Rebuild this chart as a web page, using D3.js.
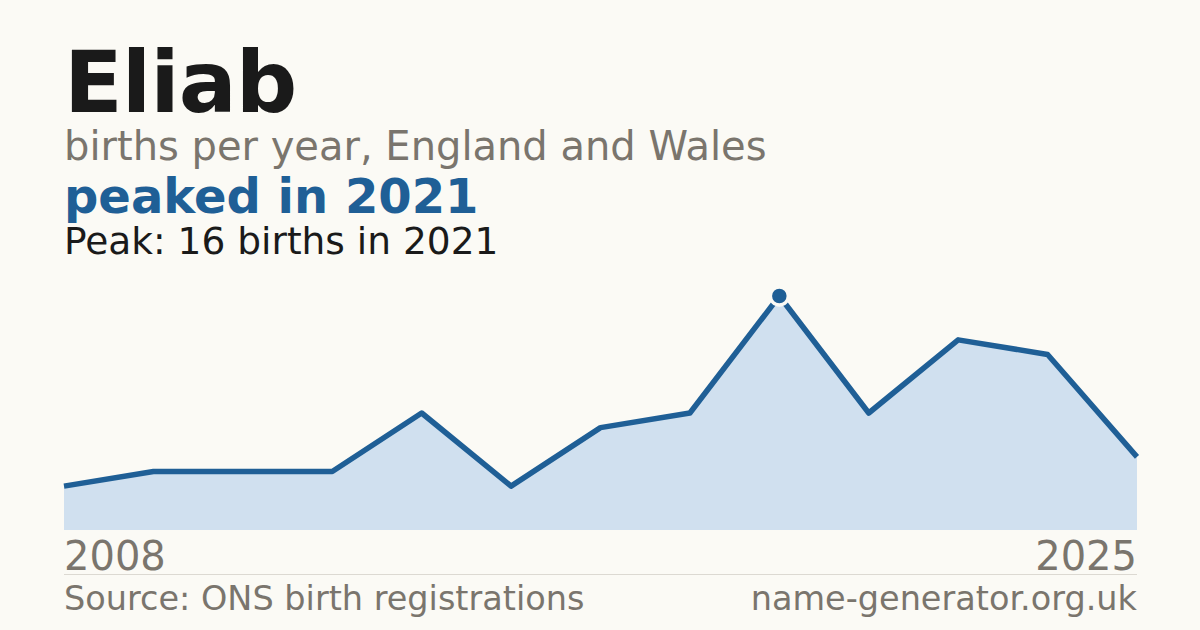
<html>
<head>
<meta charset="utf-8">
<script src="https://d3js.org/d3.v7.min.js"></script>
<style>
  body { margin: 0; background: #fbfaf5; }
  svg { display: block; font-family: "DejaVu Sans", sans-serif; }
</style>
</head>
<body>
<svg width="1200" height="630"></svg>
<script>
// data (years with suppressed counts are absent)
var years  = [2008, 2010, 2012, 2014, 2016, 2017, 2018, 2019, 2021, 2022, 2023, 2024, 2025];
var births = [3, 4, 4, 4, 8, 3, 7, 8, 16, 8, 13, 12, 5];
var peakYear = 2021;
var yearLabels = ["2008", "2025"];

var blue = "#1f5f96";
var grey = "#7a756d";

var svg = d3.select("svg");
svg.append("rect").attr("width", 1200).attr("height", 630).attr("fill", "#fbfaf5");

var x = d3.scalePoint().domain(years).range([64, 1137]);
var y = d3.scaleLinear().domain([0, 16]).range([530, 296]);

// header text
svg.append("text").attr("x", 64).attr("y", 112)
  .attr("font-size", 86).attr("font-weight", "bold").attr("fill", "#1a1a1a")
  .attr("letter-spacing", -1)
  .text("Eliab");
svg.append("text").attr("x", 64).attr("y", 160)
  .attr("font-size", 40).attr("fill", grey)
  .text("births per year, England and Wales");
svg.append("text").attr("x", 64).attr("y", 213)
  .attr("font-size", 48).attr("font-weight", "bold").attr("fill", blue)
  .text("peaked in " + peakYear);
svg.append("text").attr("x", 64).attr("y", 254)
  .attr("font-size", 37.5).attr("fill", "#1a1a1a")
  .text("Peak: " + d3.max(births) + " births in " + peakYear);

var pts = years.map(function(d, i) { return { year: d, n: births[i] }; });

svg.append("path").datum(pts)
  .attr("fill", "#d0e0ef")
  .attr("d", d3.area().x(function(d) { return x(d.year); }).y0(y(0)).y1(function(d) { return y(d.n); }));

svg.append("path").datum(pts)
  .attr("fill", "none").attr("stroke", blue).attr("stroke-width", 5.5)
  .attr("stroke-linejoin", "round")
  .attr("d", d3.line().x(function(d) { return x(d.year); }).y(function(d) { return y(d.n); }));

var peak = pts.filter(function(d) { return d.year === peakYear; })[0];
svg.append("circle")
  .attr("cx", x(peak.year)).attr("cy", y(peak.n)).attr("r", 9)
  .attr("fill", blue).attr("stroke", "#fbfaf5").attr("stroke-width", 3.5);

// x labels and footer
svg.append("text").attr("x", 64).attr("y", 570)
  .attr("font-size", 40).attr("fill", grey).text(yearLabels[0]);
svg.append("text").attr("x", 1137).attr("y", 570).attr("text-anchor", "end")
  .attr("font-size", 40).attr("fill", grey).text(yearLabels[1]);

svg.append("line").attr("x1", 64).attr("x2", 1137).attr("y1", 574.5).attr("y2", 574.5)
  .attr("stroke", "#dcd9d2").attr("stroke-width", 1);

svg.append("text").attr("x", 64).attr("y", 610)
  .attr("font-size", 33.5).attr("fill", grey).text("Source: ONS birth registrations");
svg.append("text").attr("x", 1137).attr("y", 610).attr("text-anchor", "end")
  .attr("font-size", 33.5).attr("fill", grey).text("name-generator.org.uk");
</script>
</body>
</html>
